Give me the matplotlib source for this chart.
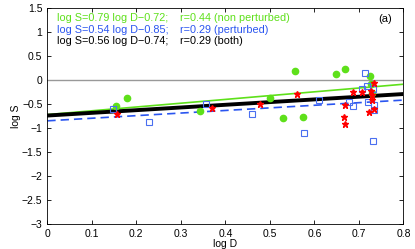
import numpy as np
import matplotlib
matplotlib.use("Agg")
import matplotlib.pyplot as plt

plt.rcParams["font.family"] = ["Liberation Sans", "DejaVu Sans"]

# non perturbed (green dots)
np_x = [0.154, 0.179, 0.344, 0.500, 0.529, 0.556, 0.574, 0.649, 0.668, 0.724, 0.727, 0.729]
np_y = [-0.54, -0.37, -0.64, -0.38, -0.80, 0.19, -0.78, 0.125, 0.22, 0.076, -0.08, -0.28]

# perturbed (blue squares)
p_x = [0.148, 0.229, 0.356, 0.459, 0.576, 0.611, 0.677, 0.686, 0.708, 0.713, 0.719,
       0.720, 0.731, 0.731, 0.733, 0.733]
p_y = [-0.60, -0.875, -0.49, -0.70, -1.11, -0.42, -0.45, -0.535, -0.19, 0.15, -0.125,
       -0.45, -0.19, -1.28, -0.52, -0.63]

# stars (red)
s_x = [0.157, 0.371, 0.477, 0.560, 0.667, 0.668, 0.669, 0.686, 0.706, 0.723, 0.727,
       0.729, 0.729, 0.733, 0.733]
s_y = [-0.70, -0.59, -0.49, -0.285, -0.76, -0.53, -0.92, -0.26, -0.26, -0.66, -0.22,
       -0.32, -0.42, -0.07, -0.61]

fits = {
    "green": (0.79, -0.72),
    "blue": (0.54, -0.85),
    "black": (0.56, -0.74),
}

GREEN = "#5ee01a"
BLUE = "#2a55f0"

fig = plt.figure(figsize=(4.15, 2.49), dpi=100)
ax = fig.add_axes([0.114, 0.1, 0.858, 0.868])

ax.axhline(0, color="#999999", lw=1)

xx = np.array([0.0, 0.8])
a, b = fits["green"]
ax.plot(xx, a * xx + b, color=GREEN, lw=1.2)
a, b = fits["black"]
ax.plot(xx, a * xx + b, color="black", lw=2.8)
a, b = fits["blue"]
ax.plot(xx, a * xx + b, color=BLUE, lw=1.2, ls=(0, (5, 3)))

ax.plot(np_x, np_y, "o", color=GREEN, ms=4.5, mec=GREEN)
ax.plot(p_x, p_y, "s", mfc="none", mec="#4a6ff0", ms=3.8, mew=0.8)
ax.plot(s_x, s_y, "*", color="red", ms=4.8)

ax.set_xlim(0, 0.8)
ax.set_ylim(-3, 1.5)
ax.set_xticks(np.arange(0, 0.81, 0.1))
ax.set_yticks(np.arange(-3, 1.51, 0.5))
ax.set_xticklabels(["0", "0.1", "0.2", "0.3", "0.4", "0.5", "0.6", "0.7", "0.8"])
ax.set_yticklabels(["\u22123", "\u22122.5", "\u22122", "\u22121.5", "\u22121", "\u22120.5",
                    "0", "0.5", "1", "1.5"])
ax.tick_params(direction="in", labelsize=7.5, length=3, width=0.6)
ax.tick_params(top=True, right=True)
for sp in ax.spines.values():
    sp.set_linewidth(0.6)

ax.set_xlabel("log D", fontsize=7.5, labelpad=0)
ax.set_ylabel("log S", fontsize=7.5, labelpad=1)

fs = 7.8
x1, x2 = 0.021, 0.298
ax.text(x1, 1.29, "log S=0.79 log D\u22120.72;", color=GREEN, fontsize=fs, va="center")
ax.text(x2, 1.29, "r=0.44 (non perturbed)", color=GREEN, fontsize=fs, va="center")
ax.text(x1, 1.05, "log S=0.54 log D\u22120.85;", color=BLUE, fontsize=fs, va="center")
ax.text(x2, 1.05, "r=0.29 (perturbed)", color=BLUE, fontsize=fs, va="center")
ax.text(x1, 0.81, "log S=0.56 log D\u22120.74;", color="black", fontsize=fs, va="center")
ax.text(x2, 0.81, "r=0.29 (both)", color="black", fontsize=fs, va="center")
ax.text(0.7745, 1.28, "(a)", color="black", fontsize=8, va="center", ha="right")

fig.savefig("out.png", dpi=100)
